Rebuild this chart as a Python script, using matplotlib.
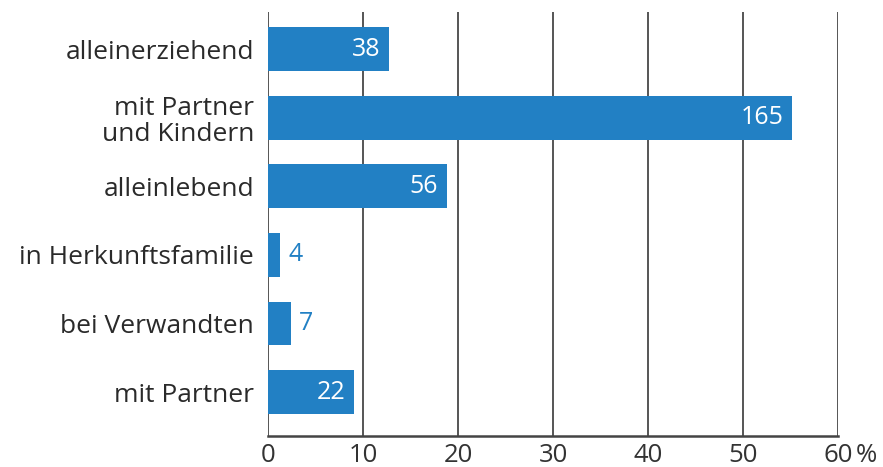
import matplotlib
matplotlib.use("Agg")
import matplotlib.pyplot as plt

categories = ["alleinerziehend", "mit Partner\nund Kindern", "alleinlebend",
              "in Herkunftsfamilie", "bei Verwandten", "mit Partner"]
percent = [12.7, 55.2, 18.8, 1.3, 2.4, 9.1]
counts = [38, 165, 56, 4, 7, 22]
xticks = [0, 10, 20, 30, 40, 50, 60]

plt.rcParams['font.family'] = ['Open Sans', 'DejaVu Sans']
BLUE = "#2280C4"
GRID = "#555555"

fig = plt.figure(figsize=(8.83, 4.67), dpi=100)
ax = fig.add_axes([268/883, 1-436/467, (838-268)/883, (436-12)/467])

y = list(range(len(categories)))
ax.barh(y, percent, height=0.64, color=BLUE, zorder=3)
ax.set_xlim(0, 60)
ax.set_ylim(5.64, -0.54)

for x in xticks:
    ax.axvline(x, color=GRID, lw=1.4, zorder=1)

for i, (p, c) in enumerate(zip(percent, counts)):
    if p > 5:
        ax.text(p - 0.9, i, str(c), color="white", ha="right", va="center",
                fontsize=18, zorder=4)
    else:
        ax.text(p + 0.9, i, str(c), color=BLUE, ha="left", va="center",
                fontsize=18, zorder=4)

ax.set_yticks(y)
ax.set_yticklabels(categories, fontsize=19, color="#2a2a2a", linespacing=1.05)
ax.set_xticks(xticks)
ax.set_xticklabels([str(t) for t in xticks], fontsize=18.5, color="#333333")
ax.tick_params(axis='both', length=0)
ax.tick_params(axis='y', pad=10)
ax.tick_params(axis='x', pad=5)
fig.text(856/883, 1-443/467, "%", ha="left", va="top", fontsize=18.5,
         color="#333333")

for s in ["top", "right", "left"]:
    ax.spines[s].set_visible(False)
ax.spines["bottom"].set_color("#444444")
ax.spines["bottom"].set_linewidth(1.8)

fig.savefig("out.png", dpi=100)
